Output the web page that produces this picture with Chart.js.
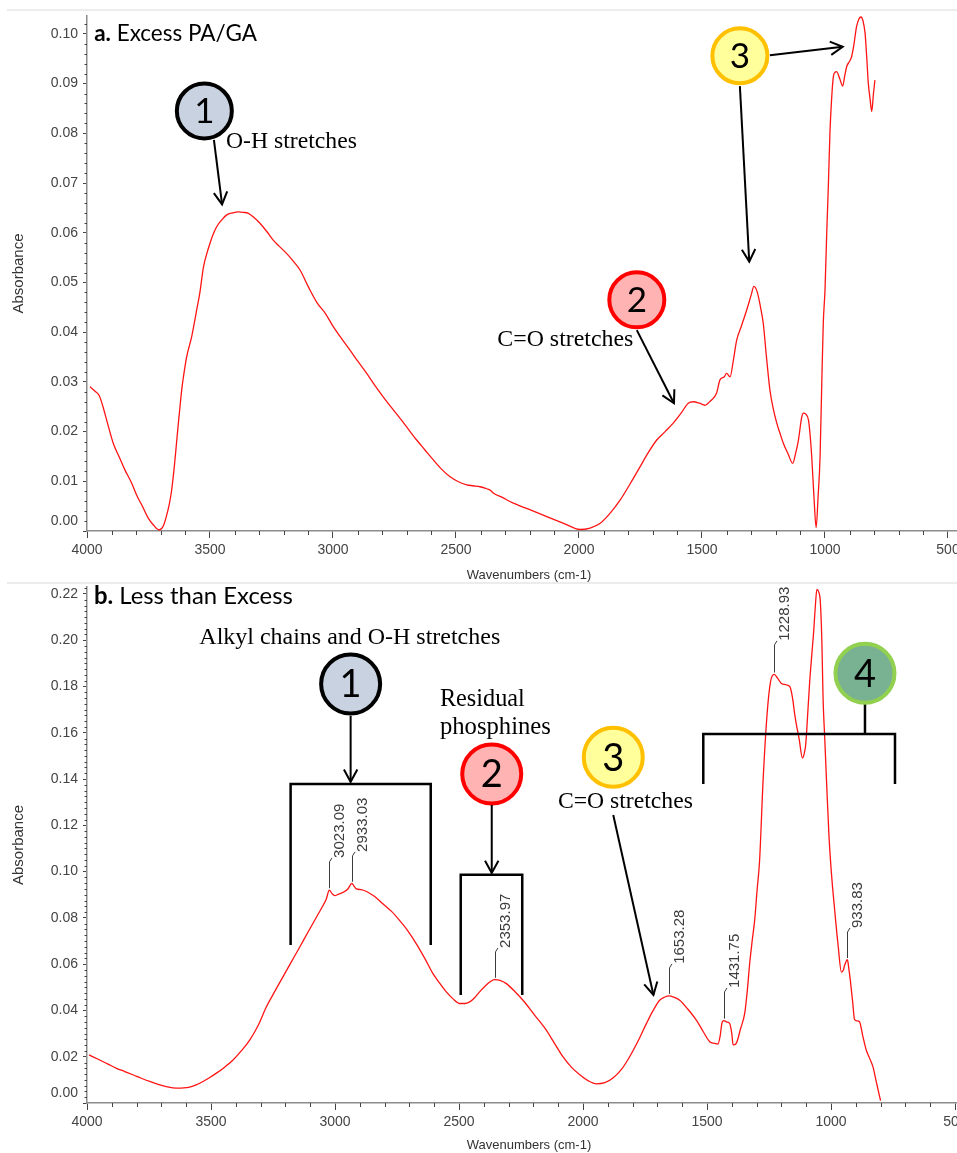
<!DOCTYPE html>
<html>
<head>
<meta charset="utf-8">
<title>FTIR spectra</title>
<script src="https://cdn.jsdelivr.net/npm/chart.js@4.4.0/dist/chart.umd.min.js"></script>
<style>
  html, body { margin: 0; padding: 0; background: #fff; overflow: hidden; width: 957px; height: 1153px; position: relative; }
  .panel { position: absolute; left: 0; width: 971px; }
  #wrapA { top: 0; height: 583px; }
  #wrapB { top: 583px; height: 570px; }
  .sep { position: absolute; left: 7px; width: 960px; height: 2px; background: #ececec; }
</style>
</head>
<body>
<div class="panel" id="wrapA"><canvas id="chartA" width="971" height="583"></canvas></div>
<div class="panel" id="wrapB"><canvas id="chartB" width="971" height="570"></canvas></div>
<div class="sep" style="top:9px"></div>
<div class="sep" style="top:582px"></div>
<script>
"use strict";

// ---- Panel a: Excess PA/GA ----
const wavenumbersA = [
  3988, 3967, 3950, 3935, 3920, 3893, 3870, 3846, 3820, 3798,
  3775, 3751, 3730, 3707, 3690, 3676, 3665, 3656, 3645, 3635,
  3625, 3615, 3605, 3595, 3574, 3554, 3541, 3527, 3513, 3500,
  3487, 3473, 3452, 3432, 3408, 3385, 3365, 3344, 3320, 3297,
  3270, 3243, 3215, 3188, 3160, 3134, 3100, 3066, 3030, 2999,
  2965, 2931, 2897, 2863, 2830, 2796, 2762, 2728, 2694, 2660,
  2626, 2592, 2558, 2524, 2490, 2457, 2430, 2402, 2375, 2360,
  2350, 2310, 2267, 2200, 2131, 2060, 1996, 1955, 1915, 1875,
  1833, 1792, 1752, 1718, 1684, 1650, 1617, 1585, 1556, 1535,
  1510, 1488, 1465, 1441, 1427, 1410, 1400, 1386, 1372, 1359,
  1340, 1318, 1300, 1289, 1275, 1262, 1251, 1238, 1224, 1210,
  1196, 1182, 1169, 1150, 1131, 1120, 1108, 1095, 1088, 1078,
  1067, 1060, 1054, 1045, 1036, 1028, 1020, 1013, 1007, 1000,
  993, 986, 980, 973, 966, 960, 953, 940, 928, 920,
  912, 900, 892, 882, 872, 862, 854, 845, 837, 830,
  824, 817, 810, 803, 797
];
const absorbanceA = [
  0.0290, 0.0281, 0.0272, 0.0250, 0.0223, 0.0176, 0.0150, 0.0123, 0.0098, 0.0072,
  0.0050, 0.0026, 0.0012, 0.0002, 0.0010, 0.0032, 0.0055, 0.0082, 0.0130, 0.0183,
  0.0235, 0.0284, 0.0320, 0.0350, 0.0392, 0.0445, 0.0480, 0.0530, 0.0558, 0.0579,
  0.0597, 0.0612, 0.0626, 0.0636, 0.0640, 0.0642, 0.0641, 0.0639, 0.0630, 0.0619,
  0.0603, 0.0585, 0.0571, 0.0558, 0.0542, 0.0525, 0.0491, 0.0460, 0.0437, 0.0411,
  0.0387, 0.0364, 0.0340, 0.0317, 0.0293, 0.0270, 0.0248, 0.0227, 0.0205, 0.0183,
  0.0163, 0.0143, 0.0124, 0.0109, 0.0099, 0.0093, 0.0091, 0.0089, 0.0085, 0.0082,
  0.0077, 0.0067, 0.0056, 0.0043, 0.0029, 0.0015, 0.0003, 0.0006, 0.0015, 0.0035,
  0.0062, 0.0095, 0.0129, 0.0158, 0.0183, 0.0200, 0.0217, 0.0237, 0.0257, 0.0260,
  0.0257, 0.0253, 0.0262, 0.0277, 0.0304, 0.0310, 0.0317, 0.0310, 0.0345, 0.0384,
  0.0412, 0.0445, 0.0475, 0.0492, 0.0480, 0.0450, 0.0418, 0.0350, 0.0284, 0.0245,
  0.0217, 0.0195, 0.0176, 0.0155, 0.0136, 0.0155, 0.0183, 0.0228, 0.0237, 0.0235,
  0.0223, 0.0190, 0.0150, 0.0070, 0.0007, 0.0070, 0.0150, 0.0300, 0.0418, 0.0485,
  0.0599, 0.0700, 0.0800, 0.0870, 0.0914, 0.0922, 0.0924, 0.0910, 0.0895, 0.0915,
  0.0934, 0.0945, 0.0954, 0.0980, 0.1014, 0.1030, 0.1034, 0.1025, 0.1001, 0.0950,
  0.0901, 0.0870, 0.0844, 0.0880, 0.0907
];

// ---- Panel b: Less than Excess ----
const wavenumbersB = [
  3992, 3949, 3915, 3881, 3848, 3815, 3781, 3747, 3713, 3680,
  3640, 3610, 3586, 3560, 3532, 3505, 3478, 3445, 3411, 3378,
  3344, 3310, 3277, 3244, 3210, 3176, 3142, 3108, 3075, 3050,
  3035, 3023, 3012, 3001, 2985, 2968, 2948, 2932, 2922, 2914,
  2895, 2873, 2840, 2806, 2772, 2739, 2705, 2672, 2638, 2605,
  2578, 2551, 2524, 2497, 2477, 2457, 2437, 2417, 2390, 2370,
  2356, 2335, 2309, 2275, 2242, 2195, 2148, 2115, 2081, 2047,
  2013, 1980, 1946, 1912, 1879, 1845, 1812, 1778, 1744, 1717,
  1691, 1670, 1653, 1635, 1610, 1577, 1543, 1516, 1489, 1470,
  1456, 1447, 1440, 1432, 1420, 1409, 1400, 1395, 1382, 1365,
  1348, 1338, 1328, 1318, 1308, 1298, 1288, 1274, 1258, 1244,
  1229, 1215, 1200, 1183, 1166, 1155, 1146, 1137, 1129, 1115,
  1108, 1102, 1094, 1086, 1078, 1070, 1063, 1057, 1050, 1043,
  1037, 1032, 1025, 1018, 1008, 998, 985, 972, 958, 950,
  945, 934, 928, 922, 913, 905, 895, 885, 872, 858,
  845, 831, 818, 804, 800
];
const absorbanceB = [
  0.0208, 0.0186, 0.0168, 0.0150, 0.0136, 0.0122, 0.0107, 0.0093, 0.0081, 0.0071,
  0.0064, 0.0065, 0.0069, 0.0078, 0.0093, 0.0110, 0.0129, 0.0155, 0.0186, 0.0225,
  0.0272, 0.0335, 0.0415, 0.0480, 0.0545, 0.0610, 0.0674, 0.0740, 0.0803, 0.0850,
  0.0882, 0.0920, 0.0905, 0.0896, 0.0903, 0.0910, 0.0925, 0.0949, 0.0935, 0.0925,
  0.0922, 0.0914, 0.0892, 0.0860, 0.0828, 0.0788, 0.0742, 0.0688, 0.0625, 0.0559,
  0.0518, 0.0480, 0.0450, 0.0430, 0.0430, 0.0437, 0.0455, 0.0480, 0.0510, 0.0527,
  0.0533, 0.0530, 0.0516, 0.0482, 0.0444, 0.0380, 0.0315, 0.0258, 0.0200, 0.0155,
  0.0122, 0.0097, 0.0083, 0.0088, 0.0108, 0.0145, 0.0200, 0.0268, 0.0344, 0.0400,
  0.0444, 0.0458, 0.0463, 0.0458, 0.0444, 0.0405, 0.0358, 0.0310, 0.0265, 0.0258,
  0.0255, 0.0290, 0.0344, 0.0356, 0.0350, 0.0344, 0.0300, 0.0251, 0.0258, 0.0320,
  0.0387, 0.0480, 0.0602, 0.0700, 0.0788, 0.0920, 0.1047, 0.1390, 0.1677, 0.1820,
  0.1852, 0.1835, 0.1813, 0.1808, 0.1799, 0.1750, 0.1677, 0.1620, 0.1577, 0.1491,
  0.1510, 0.1548, 0.1680, 0.1820, 0.1930, 0.2036, 0.2150, 0.2220, 0.2210, 0.2165,
  0.2000, 0.1749, 0.1570, 0.1390, 0.1150, 0.0989, 0.0832, 0.0688, 0.0566, 0.0575,
  0.0595, 0.0619, 0.0580, 0.0530, 0.0440, 0.0361, 0.0355, 0.0351, 0.0290, 0.0229,
  0.0195, 0.0157, 0.0095, 0.0028, 0.0010
];
const peakWavenumbersB = [3023.09, 2933.03, 2353.97, 1653.28, 1431.75, 1228.93, 933.83];

// ---- Tick labels ----
const xTickLabels = [4000, 3500, 3000, 2500, 2000, 1500, 1000, 500];
const yTicksA = [0.00, 0.01, 0.02, 0.03, 0.04, 0.05, 0.06, 0.07, 0.08, 0.09, 0.10];
const yTicksB = [0.00, 0.02, 0.04, 0.06, 0.08, 0.10, 0.12, 0.14, 0.16, 0.18, 0.20, 0.22];

// Colours of the numbered markers
const BLUE = { fill: '#c8d2e1', stroke: '#000000' };
const RED = { fill: '#ffb3b3', stroke: '#ff0000' };
const YELLOW = { fill: '#ffff9c', stroke: '#ffc000' };
const GREEN = { fill: '#78b292', stroke: '#92d050' };

const SERIF = '"Liberation Serif", "Times New Roman", serif';
const SANS = '"Liberation Sans", Arial, sans-serif';

// Annotations are placed in data units (wavenumber, absorbance)
const annotationsA = [
  { type: 'title', bold: 'a.', rest: ' Excess PA/GA', x: 3971, y: 0.1000, width: 163 },
  { type: 'circle', x: 3523, y: 0.0845, r: 27.5, label: '1', size: 35, colors: BLUE },
  { type: 'arrow', from: [3484, 0.0787], to: [3451, 0.0657] },
  { type: 'text', text: 'O-H stretches', x: 3435, y: 0.0782, width: 131 },
  { type: 'circle', x: 1765, y: 0.0465, r: 27.5, label: '2', size: 35, colors: RED },
  { type: 'arrow', from: [1765, 0.0404], to: [1614, 0.0257] },
  { type: 'text', text: 'C=O stretches', x: 2332, y: 0.0384, width: 136 },
  { type: 'circle', x: 1346, y: 0.0956, r: 27.5, label: '3', size: 35, colors: YELLOW },
  { type: 'arrow', from: [1224, 0.0957], to: [928, 0.0974] },
  { type: 'arrow', from: [1346, 0.0895], to: [1308, 0.0542] }
];

const annotationsB = [
  { type: 'title', bold: 'b.', rest: ' Less than Excess', x: 3972, y: 0.2191, width: 199 },
  { type: 'text', text: 'Alkyl chains and O-H stretches', x: 3547, y: 0.2010, width: 301 },
  { type: 'circle', x: 2937, y: 0.1811, r: 29.5, label: '1', size: 38, colors: BLUE },
  { type: 'arrow', from: [2937, 0.1673], to: [2937, 0.1388] },
  { type: 'bracket', x1: 3179, x2: 2614, y: 0.1379, leg: 0.0683 },
  { type: 'text', text: 'Residual', x: 2577, y: 0.1742, width: 85 },
  { type: 'text', text: 'phosphines', x: 2577, y: 0.1621, width: 111 },
  { type: 'circle', x: 2368, y: 0.1422, r: 29.5, label: '2', size: 38, colors: RED },
  { type: 'arrow', from: [2368, 0.1288], to: [2368, 0.0994] },
  { type: 'bracket', x1: 2493, x2: 2245, y: 0.0986, leg: 0.0467 },
  { type: 'circle', x: 1878, y: 0.1494, r: 29.5, label: '3', size: 38, colors: YELLOW },
  { type: 'text', text: 'C=O stretches', x: 2101, y: 0.1301, width: 135 },
  { type: 'arrow', from: [1878, 0.1245], to: [1716, 0.0467] },
  { type: 'bracket', x1: 1515, x2: 742, y: 0.1595, leg: 0.1379 },
  { type: 'line', from: [863, 0.1725], to: [863, 0.1595] },
  { type: 'circle', x: 863, y: 0.1857, r: 29.5, label: '4', size: 38, colors: GREEN },
  { type: 'peak', index: 0, top: 0.1042 },
  { type: 'peak', index: 1, top: 0.1068 },
  { type: 'peak', index: 2, top: 0.0653 },
  { type: 'peak', index: 3, top: 0.0584 },
  { type: 'peak', index: 4, top: 0.0480 },
  { type: 'peak', index: 5, top: 0.1980 },
  { type: 'peak', index: 6, top: 0.0739 }
];

// Linear interpolation of the spectrum at a wavenumber (wavenumbers descending)
function valueAt(wn, abs, w) {
  for (let i = 0; i < wn.length - 1; i++) {
    if (wn[i] >= w && w >= wn[i + 1]) {
      const t = (wn[i] - w) / (wn[i] - wn[i + 1]);
      return abs[i] + t * (abs[i + 1] - abs[i]);
    }
  }
  return abs[abs.length - 1];
}

function drawArrow(ctx, x1, y1, x2, y2) {
  ctx.beginPath();
  ctx.moveTo(x1, y1);
  ctx.lineTo(x2, y2);
  ctx.stroke();
  const a = Math.atan2(y2 - y1, x2 - x1), L = 14, h = 0.5;
  ctx.beginPath();
  ctx.moveTo(x2 - L * Math.cos(a - h), y2 - L * Math.sin(a - h));
  ctx.lineTo(x2, y2);
  ctx.lineTo(x2 - L * Math.cos(a + h), y2 - L * Math.sin(a + h));
  ctx.stroke();
}

// font size that makes the text take the wanted width
function fitSize(ctx, parts, family, width) {
  let w = 0;
  parts.forEach(p => {
    ctx.font = p.weight + ' 20px ' + family;
    w += ctx.measureText(p.t).width;
  });
  return 20 * width / w;
}

function annotationPlugin(panel) {
  return {
    id: 'annotations',
    beforeDraw(chart) {
      // the software lifts the "0.00" label clear of the x axis
      const items = chart.scales.y.getLabelItems();
      items.forEach(it => {
        if (it.label === '0.00' && !it._lifted) {
          it.options.translation[1] -= 10;
          it._lifted = true;
        }
      });
    },
    afterDraw(chart) {
      const ctx = chart.ctx;
      const xs = chart.scales.x, ys = chart.scales.y;
      const X = v => xs.getPixelForValue(v);
      const Y = v => ys.getPixelForValue(v);
      const area = chart.chartArea;
      ctx.save();

      // minor ticks
      ctx.strokeStyle = '#444';
      ctx.lineWidth = 1;
      ctx.beginPath();
      for (let w = 3900; w > xs.min; w -= 100) {
        if (w % 500 === 0) continue;
        const px = Math.round(X(w)) + 0.5;
        ctx.moveTo(px, area.bottom);
        ctx.lineTo(px, area.bottom + 4);
      }
      const major = panel.yTicks[1] - panel.yTicks[0];
      for (let k = 1; k * panel.yMinor < ys.max; k++) {
        const v = k * panel.yMinor;
        const r = v / major;
        if (Math.abs(r - Math.round(r)) < 1e-6) continue;
        const py = Math.round(Y(v)) + 0.5;
        ctx.moveTo(area.left - 2.5, py);
        ctx.lineTo(area.left, py);
      }
      ctx.stroke();

      panel.items.forEach(it => {
        ctx.strokeStyle = '#000';
        ctx.fillStyle = '#000';
        if (it.type === 'title') {
          const parts = [{ t: it.bold, weight: 'bold' }, { t: it.rest, weight: 'normal' }];
          const size = fitSize(ctx, parts, 'Lato', it.width);
          let x = X(it.x);
          ctx.textBaseline = 'middle';
          ctx.textAlign = 'left';
          parts.forEach(p => {
            ctx.font = p.weight + ' ' + size + 'px Lato';
            ctx.fillText(p.t, x, Y(it.y));
            x += ctx.measureText(p.t).width;
          });
        } else if (it.type === 'text') {
          const size = fitSize(ctx, [{ t: it.text, weight: 'normal' }], SERIF, it.width);
          ctx.font = 'normal ' + size + 'px ' + SERIF;
          ctx.textBaseline = 'middle';
          ctx.textAlign = 'left';
          ctx.fillText(it.text, X(it.x), Y(it.y));
        } else if (it.type === 'circle') {
          ctx.beginPath();
          ctx.arc(X(it.x), Y(it.y), it.r, 0, Math.PI * 2);
          ctx.fillStyle = it.colors.fill;
          ctx.fill();
          ctx.lineWidth = 4;
          ctx.strokeStyle = it.colors.stroke;
          ctx.stroke();
          ctx.fillStyle = '#000';
          ctx.font = 'normal ' + it.size + 'px Lato';
          ctx.textAlign = 'center';
          ctx.textBaseline = 'middle';
          ctx.fillText(it.label, X(it.x), Y(it.y) + 1);
        } else if (it.type === 'arrow') {
          ctx.lineWidth = 2;
          drawArrow(ctx, X(it.from[0]), Y(it.from[1]), X(it.to[0]), Y(it.to[1]));
        } else if (it.type === 'line') {
          ctx.lineWidth = 2.5;
          ctx.beginPath();
          ctx.moveTo(X(it.from[0]), Y(it.from[1]));
          ctx.lineTo(X(it.to[0]), Y(it.to[1]));
          ctx.stroke();
        } else if (it.type === 'bracket') {
          ctx.lineWidth = 2.5;
          ctx.lineJoin = 'miter';
          ctx.beginPath();
          ctx.moveTo(X(it.x1), Y(it.leg));
          ctx.lineTo(X(it.x1), Y(it.y));
          ctx.lineTo(X(it.x2), Y(it.y));
          ctx.lineTo(X(it.x2), Y(it.leg));
          ctx.stroke();
        } else if (it.type === 'peak') {
          const w = peakWavenumbersB[it.index];
          const px = Math.round(X(w)) + 0.5;
          const yPeak = Y(valueAt(panel.wn, panel.abs, w)) - 2;
          const yTop = Y(it.top);
          ctx.strokeStyle = '#3c3c3c';
          ctx.lineWidth = 1;
          ctx.beginPath();
          ctx.moveTo(px, yPeak);
          ctx.lineTo(px, yTop);
          ctx.lineTo(px + 2.5, yTop - 4);
          ctx.stroke();
          ctx.save();
          ctx.translate(px + 10, yTop - 4);
          ctx.rotate(-Math.PI / 2);
          ctx.fillStyle = '#3c3c3c';
          ctx.font = '15px ' + SANS;
          ctx.textAlign = 'left';
          ctx.textBaseline = 'middle';
          ctx.fillText(w.toFixed(2), 0, 0);
          ctx.restore();
        }
      });
      ctx.restore();
    }
  };
}

function buildChart(canvasId, panel) {
  const points = panel.wn.map((w, i) => ({ x: w, y: panel.abs[i] }));
  return new Chart(document.getElementById(canvasId), {
    type: 'line',
    data: {
      datasets: [{
        data: points,
        borderColor: '#ff1414',
        borderWidth: 1.3,
        pointRadius: 0,
        fill: false,
        cubicInterpolationMode: 'monotone'
      }]
    },
    options: {
      responsive: false,
      animation: false,
      events: [],
      layout: { padding: { top: panel.padTop, left: 0, right: 0, bottom: 0 } },
      plugins: { legend: { display: false }, tooltip: { enabled: false } },
      scales: {
        x: {
          type: 'linear',
          reverse: true,
          min: panel.xMin,
          max: 4000,
          afterBuildTicks: s => { s.ticks = xTickLabels.map(v => ({ value: v })); },
          afterFit: s => { s.height = panel.xAxisHeight; s.paddingLeft = 0; s.paddingRight = 0; },
          grid: { display: true, drawOnChartArea: false, drawTicks: true, tickLength: 7, color: '#444' },
          border: { display: true, color: '#8c8c8c', width: 1.5 },
          ticks: {
            color: '#444',
            font: { family: SANS, size: 14 },
            padding: 4,
            maxRotation: 0,
            autoSkip: false,
            callback: v => String(v)
          },
          title: {
            display: true,
            text: 'Wavenumbers (cm-1)',
            color: '#333',
            font: { family: SANS, size: 13 },
            padding: { top: 0, bottom: panel.xTitlePad }
          }
        },
        y: {
          min: panel.yMin,
          max: panel.yMax,
          afterBuildTicks: s => { s.ticks = panel.yTicks.map(v => ({ value: v })); },
          afterFit: s => { s.width = 87; s.paddingTop = 0; s.paddingBottom = 0; },
          grid: { display: true, drawOnChartArea: false, drawTicks: true, tickLength: 4, color: '#444' },
          border: { display: true, color: '#8c8c8c', width: 1.5 },
          ticks: {
            color: '#444',
            font: { family: SANS, size: 14 },
            padding: 5,
            callback: v => v.toFixed(2)
          },
          title: {
            display: true,
            text: 'Absorbance',
            color: '#333',
            font: { family: SANS, size: 15 },
            padding: { top: 10, bottom: 0 }
          }
        }
      }
    },
    plugins: [annotationPlugin(panel)]
  });
}

buildChart('chartA', {
  wn: wavenumbersA, abs: absorbanceA,
  xMin: 406.5, yMin: 0, yMax: 0.1036,
  yTicks: yTicksA, yMinor: 0.002,
  padTop: 16, xAxisHeight: 52, xTitlePad: 0,
  items: annotationsA
});

buildChart('chartB', {
  wn: wavenumbersB, abs: absorbanceB,
  xMin: 435.5, yMin: 0, yMax: 0.223,
  yTicks: yTicksB, yMinor: 0.0025,
  padTop: 4, xAxisHeight: 50, xTitlePad: 0.2,
  items: annotationsB
});
</script>
</body>
</html>
